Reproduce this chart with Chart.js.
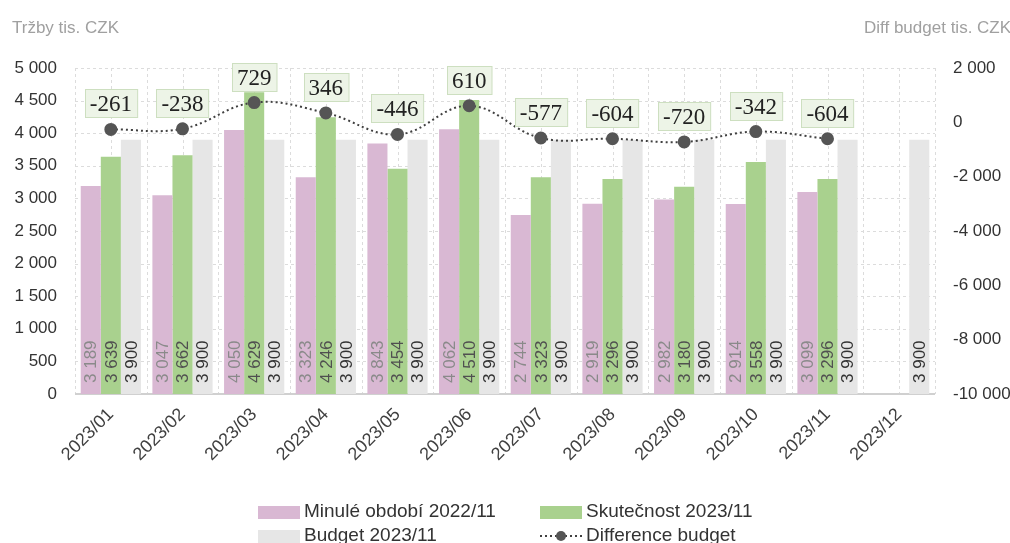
<!DOCTYPE html>
<html>
<head>
<meta charset="utf-8">
<script src="https://cdn.jsdelivr.net/npm/chart.js@4"></script>
<style>
  html, body { margin: 0; padding: 0; background: #fff; }
  #chartDiv { width: 1010px; height: 543px; }
</style>
</head>
<body>
<div id="chartDiv"><canvas id="myChart" width="1010" height="543"></canvas></div>
<script>
const months = ["2023/01", "2023/02", "2023/03", "2023/04", "2023/05", "2023/06",
                "2023/07", "2023/08", "2023/09", "2023/10", "2023/11", "2023/12"];
const minule = [3189, 3047, 4050, 3323, 3843, 4062, 2744, 2919, 2982, 2914, 3099, null];
const skutecnost = [3639, 3662, 4629, 4246, 3454, 4510, 3323, 3296, 3180, 3558, 3296, null];
const budget = [3900, 3900, 3900, 3900, 3900, 3900, 3900, 3900, 3900, 3900, 3900, 3900];
const diffBudget = [-261, -238, 729, 346, -446, 610, -577, -604, -720, -342, -604, null];

const leftTitle = "Tržby tis. CZK";
const rightTitle = "Diff budget tis. CZK";

const SANS = '"Liberation Sans", Arial, sans-serif';
const SERIF = '"Liberation Serif", "Times New Roman", serif';

// cislo s mezerou jako oddelovacem tisicu
function fmt(v) {
  const s = String(Math.abs(v)).replace(/\B(?=(\d{3})+(?!\d))/g, " ");
  return v < 0 ? "-" + s : s;
}

// mrizka: svisle carkovane kazdou polovinu kategorie, vodorovne po 500
const gridPlugin = {
  id: "gridPlugin",
  beforeDatasetsDraw(chart) {
    const ctx = chart.ctx;
    const a = chart.chartArea;
    const y = chart.scales.y;
    ctx.save();
    ctx.strokeStyle = "#dcdcdc";
    ctx.lineWidth = 1;
    ctx.setLineDash([3, 3]);
    const n = months.length * 2;
    for (let i = 0; i <= n; i++) {
      const x = Math.round(a.left + i * (a.right - a.left) / n) + 0.5;
      ctx.beginPath();
      ctx.moveTo(x, a.top);
      ctx.lineTo(x, a.bottom);
      ctx.stroke();
    }
    for (let v = 500; v <= 5000; v += 500) {
      const py = Math.round(y.getPixelForValue(v)) + 0.5;
      ctx.beginPath();
      ctx.moveTo(a.left, py);
      ctx.lineTo(a.right, py);
      ctx.stroke();
    }
    ctx.setLineDash([]);
    ctx.strokeStyle = "#d0d0d0";
    ctx.lineWidth = 2;
    ctx.beginPath();
    ctx.moveTo(a.left, a.bottom);
    ctx.lineTo(a.right, a.bottom);
    ctx.stroke();
    ctx.restore();
  }
};

// popisky ve sloupcich (otocene, u zakladny)
const barLabels = {
  id: "barLabels",
  afterDatasetsDraw(chart) {
    const ctx = chart.ctx;
    const base = chart.scales.y.getPixelForValue(0);
    chart.data.datasets.forEach((ds, i) => {
      if (ds.type === "line") return;
      const meta = chart.getDatasetMeta(i);
      meta.data.forEach((bar, j) => {
        if (ds.data[j] == null) return;
        ctx.save();
        ctx.translate(bar.x, base - 11);
        ctx.rotate(-Math.PI / 2);
        ctx.font = "17px " + SANS;
        ctx.fillStyle = ds.labelColor;
        ctx.textAlign = "left";
        ctx.textBaseline = "middle";
        ctx.fillText(fmt(ds.data[j]), 0, 1);
        ctx.restore();
      });
    });
  }
};

// popisky rozdilu, nadpisy os a legenda
const extras = {
  id: "extras",
  afterDraw(chart) {
    const ctx = chart.ctx;
    const idx = chart.data.datasets.findIndex(d => d.type === "line");
    const meta = chart.getDatasetMeta(idx);
    ctx.save();
    ctx.font = "23px " + SERIF;
    ctx.textAlign = "center";
    ctx.textBaseline = "middle";
    meta.data.forEach((pt, j) => {
      const v = diffBudget[j];
      if (v == null) return;
      const txt = fmt(v);
      const w = ctx.measureText(txt).width + 10;
      const h = 28;
      const bx = Math.round(pt.x - w / 2) + 0.5;
      const by = Math.round(pt.y - 12 - h) + 0.5;
      ctx.fillStyle = "#edf4e7";
      ctx.strokeStyle = "#cddfc0";
      ctx.lineWidth = 1;
      ctx.fillRect(bx, by, w, h);
      ctx.strokeRect(bx, by, w, h);
      ctx.fillStyle = "#222";
      ctx.fillText(txt, pt.x, by + h / 2 + 1);
    });

    // nadpisy os
    ctx.font = "17px " + SANS;
    ctx.fillStyle = "#a0a0a0";
    ctx.textAlign = "left";
    ctx.fillText(leftTitle, 12, 28);
    ctx.fillText(rightTitle, 864, 28);

    // legenda
    const ds = chart.data.datasets;
    const items = [
      { d: ds[1], x: 258, y: 512 },
      { d: ds[2], x: 540, y: 512 },
      { d: ds[3], x: 258, y: 536 },
      { d: ds[0], x: 540, y: 536 }
    ];
    ctx.font = "19px " + SANS;
    ctx.textBaseline = "middle";
    items.forEach(it => {
      if (it.d.type === "line") {
        ctx.strokeStyle = it.d.borderColor;
        ctx.lineWidth = 2;
        ctx.setLineDash([2, 3]);
        ctx.beginPath();
        ctx.moveTo(it.x, it.y);
        ctx.lineTo(it.x + 42, it.y);
        ctx.stroke();
        ctx.setLineDash([]);
        ctx.fillStyle = it.d.pointBackgroundColor;
        ctx.beginPath();
        ctx.arc(it.x + 21, it.y, 5, 0, Math.PI * 2);
        ctx.fill();
      } else {
        ctx.fillStyle = it.d.backgroundColor;
        ctx.fillRect(it.x, it.y - 6, 42, 13);
      }
      ctx.fillStyle = "#333";
      ctx.fillText(it.d.label, it.x + 46, it.y);
    });
    ctx.restore();
  }
};

const ctx = document.getElementById("myChart");

new Chart(ctx, {
  data: {
    labels: months,
    datasets: [
      {
        type: "line",
        label: "Difference budget",
        data: diffBudget,
        yAxisID: "y1",
        borderColor: "#404040",
        borderWidth: 2,
        borderDash: [2, 3],
        tension: 0.4,
        pointRadius: 5.5,
        pointBackgroundColor: "#555555",
        pointBorderColor: "#555555",
        order: 0
      },
      {
        type: "bar",
        label: "Minulé období 2022/11",
        data: minule,
        backgroundColor: "#d9b8d3",
        labelColor: "#8a8a8a",
        order: 1
      },
      {
        type: "bar",
        label: "Skutečnost 2023/11",
        data: skutecnost,
        backgroundColor: "#a9d18e",
        labelColor: "#505050",
        order: 1
      },
      {
        type: "bar",
        label: "Budget 2023/11",
        data: budget,
        backgroundColor: "#e6e6e6",
        labelColor: "#333333",
        order: 1
      }
    ]
  },
  options: {
    responsive: false,
    animation: false,
    layout: { padding: { top: 68, left: 0, right: 0, bottom: 0 } },
    datasets: { bar: { categoryPercentage: 0.84, barPercentage: 1.0 } },
    plugins: { legend: { display: false }, tooltip: { enabled: false } },
    scales: {
      x: {
        grid: { display: false, drawTicks: false },
        border: { display: false },
        ticks: {
          color: "#404040",
          font: { family: SANS, size: 18 },
          minRotation: 45,
          maxRotation: 45,
          padding: 10
        },
        afterFit: s => { s.height = 149; }
      },
      y: {
        position: "left",
        min: 0,
        max: 5000,
        grid: { display: false, drawTicks: false },
        border: { display: false },
        ticks: {
          stepSize: 500,
          color: "#333",
          font: { family: SANS, size: 17 },
          padding: 18,
          callback: v => fmt(v)
        },
        afterFit: s => { s.width = 75; }
      },
      y1: {
        position: "right",
        min: -10000,
        max: 2000,
        grid: { display: false, drawTicks: false },
        border: { display: false },
        ticks: {
          stepSize: 2000,
          color: "#333",
          font: { family: SANS, size: 17 },
          padding: 18,
          callback: v => fmt(v)
        },
        afterFit: s => { s.width = 75; }
      }
    }
  },
  plugins: [gridPlugin, barLabels, extras]
});
</script>
</body>
</html>
